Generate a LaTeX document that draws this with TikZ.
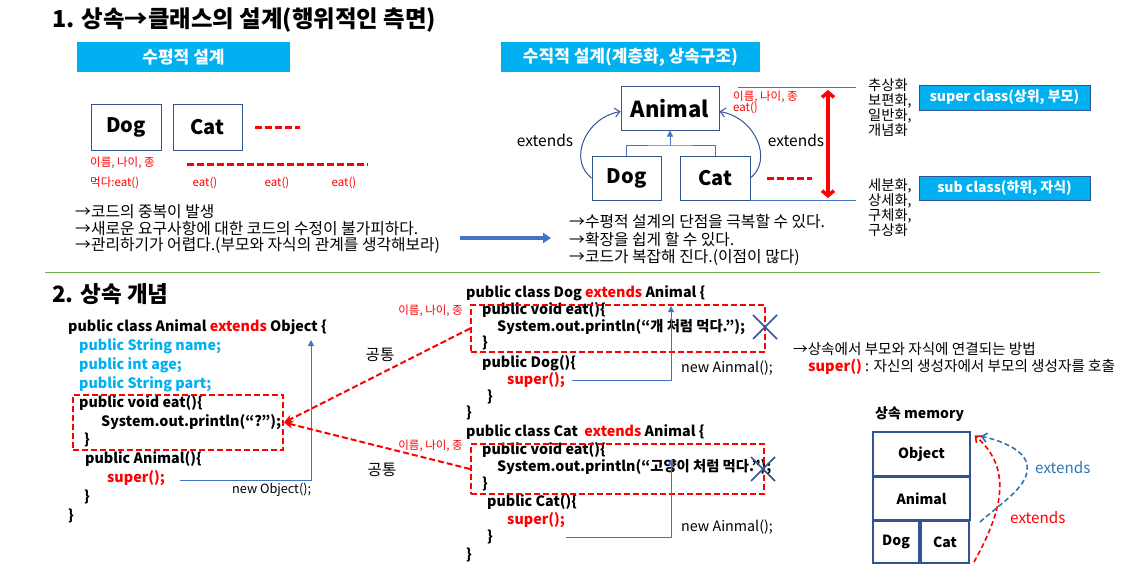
\documentclass[tikz,border=0pt]{standalone}
\usepackage{fontspec}
\setmainfont{Noto Sans CJK KR}
\usetikzlibrary{arrows.meta}
\definecolor{cyanfill}{HTML}{00B0F0}
\definecolor{navy}{HTML}{2F5597}
\definecolor{lineblue}{HTML}{4472C4}
\definecolor{extblue}{HTML}{2E75B6}
\definecolor{gline}{HTML}{70AD47}
\definecolor{pred}{HTML}{FF0000}
\newcommand{\fsz}[1]{\fontsize{#1}{#1}\selectfont}
\begin{document}
\begin{tikzpicture}[x=1pt,y=-1pt,
  bodytxt/.style={inner sep=0pt, anchor=west, font=\fsz{15.8}},
  codetxt/.style={inner sep=0pt, anchor=west, font=\fsz{14.3}\bfseries},
  redsmall/.style={inner sep=0pt, text=pred, font=\fsz{11.5}},
  titletxt/.style={inner sep=0pt, anchor=west, font=\fsz{22.5}\bfseries},
  classbox/.style={draw=navy, line width=1pt, inner sep=0pt, font=\fsz{20}\bfseries},
  membox/.style={draw=navy, line width=1.2pt, inner sep=0pt, font=\fsz{14}\bfseries},
  cyanbox/.style={fill=cyanfill, inner sep=0pt, text=white, font=\fsz{17}\bfseries},
  cyanboxb/.style={fill=cyanfill, draw=navy, line width=0.8pt, inner sep=0pt, text=white, font=\fsz{14}\bfseries},
  reddash/.style={pred, line width=3pt, dash pattern=on 7pt off 3pt},
  redbox/.style={draw=pred, line width=2pt, dash pattern=on 6pt off 3pt, inner sep=0pt},
  redarrow/.style={pred, line width=2pt, dash pattern=on 6pt off 3pt, -{Stealth[length=9pt,width=8pt]}},
  blueln/.style={lineblue, line width=1pt},
  xmark/.style={navy, line width=1.6pt},
]
\useasboundingbox (0,0) rectangle (1131,575);

% ---------- Section 1 ----------
\node[titletxt, font=\fsz{23.4}\bfseries] (title1) at (52,20) {1. 상속→클래스의 설계(행위적인 측면)};
\node[cyanbox, minimum width=213pt, minimum height=30pt] (hbox) at (183.5,57) {수평적 설계};
\node[cyanbox, minimum width=259pt, minimum height=30pt] (vbox) at (630.5,57) {수직적 설계(계층화, 상속구조)};

\node[classbox, minimum width=70pt, minimum height=45pt] (dogA) at (126,127.5) {Dog};
\node[classbox, minimum width=69pt, minimum height=45pt] (catA) at (207.5,127.5) {Cat};
\draw[reddash] (255,127) -- (300,127);

\node[redsmall, anchor=west] (lblA) at (90,163) {이름, 나이, 종};
\node[redsmall, anchor=west] (lblB) at (90,183) {먹다:eat()};
\draw[reddash] (187,164) -- (368,164);
\node[redsmall] (eat1) at (205,183) {eat()};
\node[redsmall] (eat2) at (277,183) {eat()};
\node[redsmall] (eat3) at (344,183) {eat()};

\node[bodytxt] (b1) at (75,212) {→코드의 중복이 발생};
\node[bodytxt] (b2) at (75,229) {→새로운 요구사항에 대한 코드의 수정이 불가피하다.};
\node[bodytxt] (b3) at (75,246) {→관리하기가 어렵다.(부모와 자식의 관계를 생각해보라)};

\coordinate (arrS) at (460,238);
\coordinate (arrE) at (551,238);
\draw[lineblue, line width=3.2pt, -{Triangle[length=8pt,width=10pt]}] (arrS) -- (arrE);

\node[bodytxt] (r1) at (569,222) {→수평적 설계의 단점을 극복할 수 있다.};
\node[bodytxt] (r2) at (569,240) {→확장을 쉽게 할 수 있다.};
\node[bodytxt] (r3) at (569,258) {→코드가 복잡해 진다.(이점이 많다)};

\node[classbox, minimum width=98pt, minimum height=43pt, font=\fsz{22}\bfseries] (animalT) at (670,108.5) {Animal};
\node[classbox, minimum width=69pt, minimum height=44pt] (dogT) at (626.5,178) {Dog};
\node[classbox, minimum width=70pt, minimum height=44pt] (catT) at (715,178) {Cat};
\coordinate (treeMid) at (670,145);
\draw[blueln] (dogT.north) |- (treeMid) -| (catT.north);
\draw[blueln, -{Triangle[length=6pt,width=6pt]}] (treeMid) -- (animalT.south);
\draw[navy, line width=1pt, -{Straight Barb[length=5pt,width=9pt]}] (dogT.west) .. controls (568,160) and (585,118) .. ([yshift=-3pt]animalT.west);
\draw[navy, line width=1pt, -{Straight Barb[length=5pt,width=9pt]}] (catT.east) .. controls (773,160) and (756,118) .. ([yshift=-3pt]animalT.east);
\node[inner sep=0pt, font=\fsz{15.5}] (extL) at (545,140) {extends};
\node[inner sep=0pt, font=\fsz{15.5}] (extR) at (796,140) {extends};
\node[redsmall, anchor=west] (lblC) at (733,97) {이름, 나이, 종};
\node[redsmall, anchor=west] (lblD) at (733,108) {eat()};
\draw[reddash] (767,178) -- (812,178);

\draw[lineblue, line width=0.8pt] (738,87) -- (856,87);
\draw[lineblue, line width=0.8pt] (750,200) -- (856,200);
\draw[pred, line width=3.5pt, {Straight Barb[length=5pt,width=12pt]}-{Straight Barb[length=5pt,width=12pt]}] (828,90) -- (828,198);

\node[inner sep=0pt, anchor=north west, align=left, font=\fontsize{14.3}{15.3}\selectfont] (absT) at (868,78) {추상화\\보편화,\\일반화,\\개념화};
\node[inner sep=0pt, anchor=north west, align=left, font=\fontsize{14.3}{15.3}\selectfont] (conT) at (868,178) {세분화,\\상세화,\\구체화,\\구상화};
\node[cyanboxb, minimum width=171pt, minimum height=25pt] (superB) at (1004.5,97.5) {super class(상위, 부모)};
\node[cyanboxb, minimum width=171pt, minimum height=24pt] (subB) at (1004.5,188) {sub class(하위, 자식)};

\draw[gline, line width=1pt] (45,272) -- (1100,272);

% ---------- Section 2 ----------
\node[titletxt] (title2) at (52,294) {2. 상속 개념};

\node[codetxt] (a1) at (68,327) {public class Animal \textcolor{pred}{extends} Object \{};
\node[codetxt, text=cyanfill] (a2) at (79,346) {public String name;};
\node[codetxt, text=cyanfill] (a3) at (79,365) {public int age;};
\node[codetxt, text=cyanfill] (a4) at (79,384) {public String part;};
\node[codetxt] (a5) at (79,403) {public void eat()\{};
\node[codetxt] (a6) at (101,422) {System.out.println(“?”);};
\node[codetxt] (a7) at (84,440) {\}};
\node[codetxt] (a8) at (85,459) {public Animal()\{};
\node[codetxt, text=pred] (a9) at (107,478) {super();};
\node[codetxt] (a10) at (84,497) {\}};
\node[codetxt] (a11) at (68,516) {\}};
\node[redbox, minimum width=210pt, minimum height=55pt] (eatA) at (178,422.5) {};
\coordinate (objT) at (311,340);
\draw[blueln, -{Triangle[length=6pt,width=6pt]}] (180,480) -| (objT);
\node[inner sep=0pt, anchor=west, font=\fsz{12.7}] (newObj) at (232,490) {new Object();};

\node[codetxt] (d1) at (466,293) {public class Dog \textcolor{pred}{extends} Animal \{};
\node[codetxt] (d2) at (482,310) {public void eat()\{};
\node[codetxt] (d3) at (497,327) {System.out.println(“개 처럼 먹다.”);};
\node[codetxt] (d4) at (482,343) {\}};
\node[codetxt] (d5) at (482,363) {public Dog()\{};
\node[codetxt, text=pred] (d6) at (507,380) {super();};
\node[codetxt] (d7) at (487,397) {\}};
\node[codetxt] (d8) at (466,413) {\}};
\node[redbox, minimum width=294pt, minimum height=47pt] (eatD) at (618,328.5) {};
\coordinate (dogSup) at (671,306);
\draw[blueln, -{Triangle[length=6pt,width=6pt]}] (572,380) -| (dogSup);
\node[inner sep=0pt, anchor=west, font=\fsz{14.3}] (newD) at (681,368) {new Ainmal();};
\draw[xmark] (753,315) -- (777,339) (753,339) -- (777,315);

\node[codetxt] (c1) at (466,432) {public class Cat \ \textcolor{pred}{extends} Animal \{};
\node[codetxt] (c2) at (482,450) {public void eat()\{};
\node[codetxt] (c3) at (497,467) {System.out.println(“고양이 처럼 먹다.”);};
\node[codetxt] (c4) at (482,484) {\}};
\node[codetxt] (c5) at (487,502) {public Cat()\{};
\node[codetxt, text=pred] (c6) at (507,520) {super();};
\node[codetxt] (c7) at (487,537) {\}};
\node[codetxt] (c8) at (466,555) {\}};
\node[redbox, minimum width=293pt, minimum height=50pt] (eatC) at (617.5,469) {};
\coordinate (catSup) at (671,459);
\draw[blueln, -{Triangle[length=6pt,width=6pt]}] (566,537) -| (catSup);
\node[inner sep=0pt, anchor=west, font=\fsz{14.3}] (newC) at (681,527) {new Ainmal();};
\draw[xmark] (751,457) -- (775,481) (751,481) -- (775,457);

\draw[redarrow] (eatD.west) -- (eatA.east);
\draw[redarrow] (eatC.west) -- (eatA.east);
\node[inner sep=0pt, font=\fsz{15.5}] (common1) at (380,355) {공통};
\node[inner sep=0pt, font=\fsz{15.5}] (common2) at (382,470) {공통};
\node[redsmall, anchor=east] (lblE) at (463,311) {이름, 나이, 종};
\node[redsmall, anchor=east] (lblF) at (463,446) {이름, 나이, 종};

\node[bodytxt, font=\fsz{14.6}] (m1) at (793,349) {→상속에서 부모와 자식에 연결되는 방법};
\node[bodytxt, font=\fsz{14.6}] (m2) at (808,367) {\textcolor{pred}{\bfseries super()} : 자신의 생성자에서 부모의 생성자를 호출};

\node[inner sep=0pt, anchor=west, font=\fsz{14}\bfseries] (memT) at (875,414) {상속 memory};
\node[membox, minimum width=97pt, minimum height=44pt] (memObj) at (921.5,454) {Object};
\node[membox, minimum width=97pt, minimum height=43pt] (memAni) at (921.5,498.5) {Animal};
\node[membox, minimum width=46pt, minimum height=42pt] (memDog) at (896,542) {Dog};
\node[membox, minimum width=48pt, minimum height=42pt] (memCat) at (945,542) {Cat};
\coordinate (bS) at (980,522);
\coordinate (rS) at (974,562);
\draw[extblue, line width=1.6pt, dash pattern=on 5pt off 3pt, -{Straight Barb[length=5pt,width=9pt]}] (bS) .. controls (1005,500) and (1030,485) .. (1027,465) .. controls (1025,450) and (1000,440) .. ([xshift=10pt,yshift=-5pt]memObj.north east);
\draw[pred, line width=1.6pt, dash pattern=on 5pt off 3pt, -{Straight Barb[length=5pt,width=9pt]}] (rS) .. controls (1000,515) and (1015,470) .. ([xshift=4pt,yshift=-4pt]memObj.north east);
\node[inner sep=0pt, anchor=west, font=\fsz{15.2}, text=extblue] (extB) at (1035,468) {extends};
\node[inner sep=0pt, anchor=west, font=\fsz{15.2}, text=pred] (extRd) at (1010,518) {extends};
\end{tikzpicture}
\end{document}
